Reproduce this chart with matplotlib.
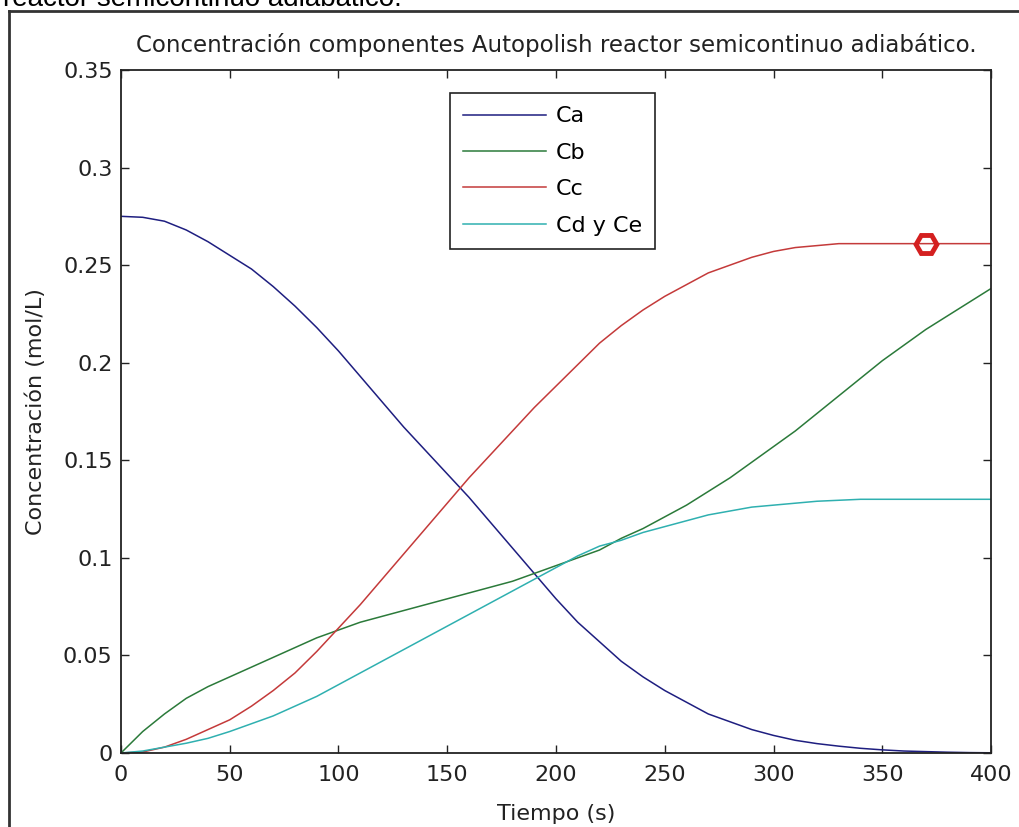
import numpy as np
import matplotlib
matplotlib.use("Agg")
from matplotlib import pyplot as plt
from matplotlib.lines import Line2D

# tiempo (s) y concentraciones (mol/L)
t = np.arange(0, 401, 10)
ca = [0.275, 0.2745, 0.2725, 0.268, 0.262, 0.255, 0.248, 0.239, 0.229, 0.218,
      0.206, 0.193, 0.180, 0.167, 0.155, 0.143, 0.131, 0.118, 0.105, 0.092,
      0.079, 0.067, 0.057, 0.047, 0.039, 0.032, 0.026, 0.020, 0.016, 0.012,
      0.009, 0.0065, 0.0048, 0.0035, 0.0024, 0.0016, 0.0010, 0.0007, 0.0004,
      0.0002, 0.0001]
cb = [0.0, 0.011, 0.020, 0.028, 0.034, 0.039, 0.044, 0.049, 0.054, 0.059,
      0.063, 0.067, 0.070, 0.073, 0.076, 0.079, 0.082, 0.085, 0.088, 0.092,
      0.096, 0.100, 0.104, 0.110, 0.115, 0.121, 0.127, 0.134, 0.141, 0.149,
      0.157, 0.165, 0.174, 0.183, 0.192, 0.201, 0.209, 0.217, 0.224, 0.231,
      0.238]
cc = [0.0, 0.0005, 0.003, 0.007, 0.012, 0.017, 0.024, 0.032, 0.041, 0.052,
      0.064, 0.076, 0.089, 0.102, 0.115, 0.128, 0.141, 0.153, 0.165, 0.177,
      0.188, 0.199, 0.210, 0.219, 0.227, 0.234, 0.240, 0.246, 0.250, 0.254,
      0.257, 0.259, 0.260, 0.261, 0.261, 0.261, 0.261, 0.261, 0.261, 0.261,
      0.261]
cd = [0.0, 0.001, 0.003, 0.005, 0.0075, 0.011, 0.015, 0.019, 0.024, 0.029,
      0.035, 0.041, 0.047, 0.053, 0.059, 0.065, 0.071, 0.077, 0.083, 0.089,
      0.095, 0.101, 0.106, 0.109, 0.113, 0.116, 0.119, 0.122, 0.124, 0.126,
      0.127, 0.128, 0.129, 0.1295, 0.130, 0.130, 0.130, 0.130, 0.130, 0.130,
      0.130]
labels = ["Ca", "Cb", "Cc", "Cd y Ce"]
marker_t = 370
marker_c = 0.261

plt.rcParams['font.family'] = ['DejaVu Sans']

fig = plt.figure(figsize=(10.2, 8.27), dpi=100)
ax = fig.add_axes([0.1186, 0.0895, 0.853, 0.8259])

colors = ['#1e1e80', '#2b7a3a', '#c43a3a', '#2fb0b0']
for y, c, lab in zip([ca, cb, cc, cd], colors, labels):
    ax.plot(t, y, color=c, lw=1.1, label=lab)
ax.plot([marker_t], [marker_c], marker='H', ms=15, mfc='none', mec='#d42020',
        mew=3.5, ls='none')

ax.set_xlim(0, 400)
ax.set_ylim(0, 0.35)
ax.set_xticks(np.arange(0, 401, 50))
ax.set_yticks(np.arange(0, 0.351, 0.05))
ax.set_yticklabels(['0', '0.05', '0.1', '0.15', '0.2', '0.25', '0.3', '0.35'])
ax.tick_params(direction='in', length=6, width=1, top=True, right=True,
               labelsize=16, colors='#222222')
ax.tick_params(axis='x', pad=9)
ax.tick_params(axis='y', pad=6)
for s in ax.spines.values():
    s.set_linewidth(1.3)
    s.set_color('#222222')

ax.set_title("Concentración componentes Autopolish reactor semicontinuo adiabático.",
             fontsize=16.5, pad=13, color='#222222')
ax.set_xlabel("Tiempo (s)", fontsize=16, labelpad=13, color='#222222')
ax.set_ylabel("Concentración (mol/L)", fontsize=16, labelpad=12, color='#222222')

leg = ax.legend(loc='upper left', bbox_to_anchor=(450 / 1020, 1 - 93 / 827),
                bbox_transform=fig.transFigure, borderaxespad=0, fontsize=16,
                handlelength=3.7, labelspacing=0.74, handletextpad=0.45,
                borderpad=0.6, fancybox=False, framealpha=1)
leg.get_frame().set_edgecolor('#222222')
leg.get_frame().set_linewidth(1.2)

# restos de la captura: texto cortado y marco de la ventana
fig.text(0.003, 1 - 6 / 827, "reactor semicontinuo adiabático.", fontsize=20,
         va='baseline', ha='left', color='black',
         family=['Liberation Sans', 'DejaVu Sans'])
fig.add_artist(Line2D([9 / 1020, 9 / 1020], [0, 1 - 11 / 827], color='#333333', lw=2))
fig.add_artist(Line2D([9 / 1020, 1], [1 - 11 / 827, 1 - 11 / 827], color='#333333', lw=2))

fig.savefig("out.png", dpi=100)
